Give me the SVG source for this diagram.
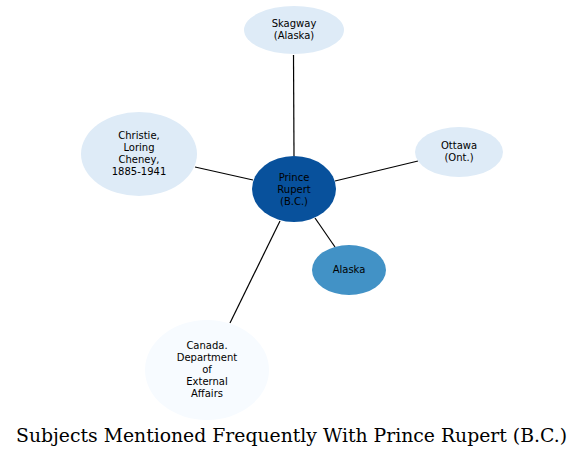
<svg xmlns="http://www.w3.org/2000/svg" width="584" height="456" viewBox="0 0 584 456">
<style>
.n text{font-family:"DejaVu Sans",sans-serif;font-size:10px;text-anchor:middle;fill:#000}
.e line{stroke:#000;stroke-width:1.2}
.l{fill:#deebf7}
.title{font-family:"DejaVu Serif","Liberation Serif",serif;font-size:18px;text-anchor:middle;fill:#000}
</style>
<rect width="584" height="456" fill="#fff"/>
<g id="edges" class="e">
<line x1="293.5" y1="55" x2="294" y2="156"/>
<line x1="195" y1="167" x2="253" y2="180"/>
<line x1="418" y1="161" x2="335" y2="181"/>
<line x1="315" y1="218" x2="335" y2="247"/>
<line x1="280" y1="221" x2="230" y2="323"/>
</g>
<g id="skagway" class="n"><ellipse class="l" cx="294" cy="30" rx="50" ry="24"/><text x="294" y="27">Skagway</text><text x="294" y="39">(Alaska)</text></g>
<g id="christie" class="n"><ellipse class="l" cx="139" cy="154" rx="58" ry="42"/><text x="139" y="139">Christie,</text><text x="139" y="151">Loring</text><text x="139" y="163">Cheney,</text><text x="139" y="175">1885-1941</text></g>
<g id="prince-rupert" class="n"><ellipse fill="#08519c" cx="294" cy="189" rx="42" ry="33"/><text x="294" y="181">Prince</text><text x="294" y="193">Rupert</text><text x="294" y="205">(B.C.)</text></g>
<g id="ottawa" class="n"><ellipse class="l" cx="459" cy="152" rx="44" ry="25"/><text x="459" y="149">Ottawa</text><text x="459" y="161">(Ont.)</text></g>
<g id="alaska" class="n"><ellipse fill="#4292c6" cx="349" cy="270" rx="37" ry="25"/><text x="349" y="273">Alaska</text></g>
<g id="canada" class="n"><ellipse fill="#f7fbff" cx="207" cy="370" rx="62" ry="50"/><text x="207" y="349">Canada.</text><text x="207" y="361">Department</text><text x="207" y="373">of</text><text x="207" y="385">External</text><text x="207" y="397">Affairs</text></g>
<text class="title" x="291.5" y="442" textLength="551" lengthAdjust="spacingAndGlyphs">Subjects Mentioned Frequently With Prince Rupert (B.C.)</text>
</svg>
